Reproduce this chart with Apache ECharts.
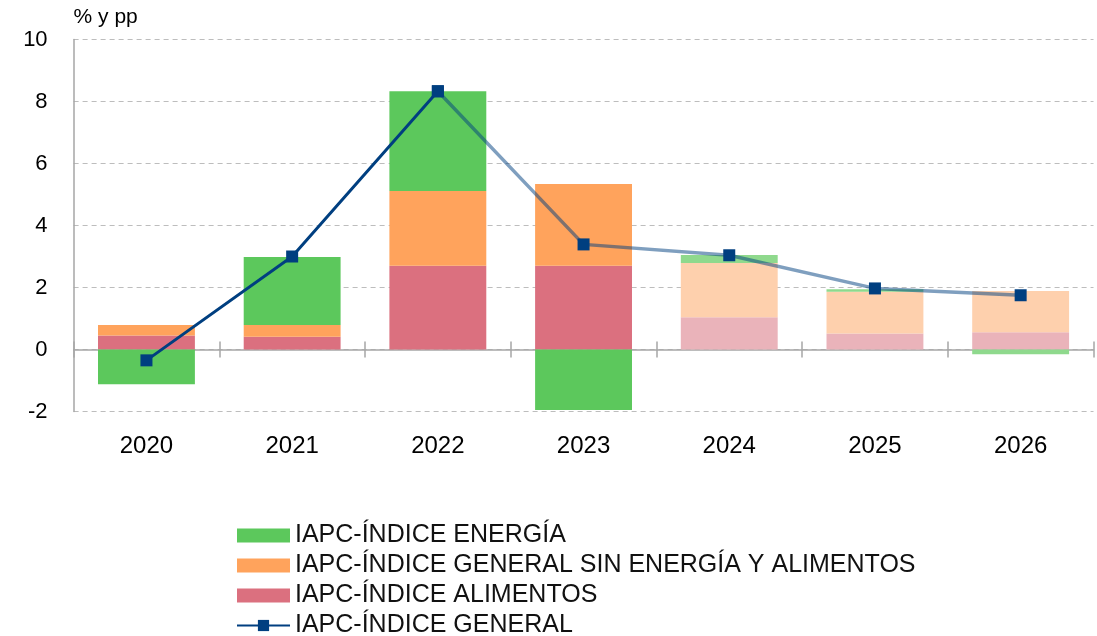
<!DOCTYPE html>
<html>
<head>
<meta charset="utf-8">
<script src="https://cdn.jsdelivr.net/npm/echarts@6/dist/echarts.min.js"></script>
<style>
html,body{margin:0;padding:0;background:#fff;}
#chart{width:1097px;height:636px;}
</style>
</head>
<body>
<div id="chart"></div>
<script>
// ---- data ----
const years = ['2020', '2021', '2022', '2023', '2024', '2025', '2026'];
const energia = [-1.12, 2.19, 3.22, -1.95, 0.26, 0.08, -0.15];
const subyacente = [0.34, 0.38, 2.41, 2.64, 1.75, 1.34, 1.33];
const alimentos = [0.45, 0.41, 2.70, 2.70, 1.04, 0.52, 0.56];
const general = [-0.35, 3.00, 8.33, 3.39, 3.04, 1.97, 1.75];
const yTicks = [-2, 0, 2, 4, 6, 8, 10];
const firstForecast = 4; // index of first projected year
const lastObserved = 2;  // line drawn solid up to this index

const names = {
  energia: 'IAPC-ÍNDICE ENERGÍA',
  sub: 'IAPC-ÍNDICE GENERAL SIN ENERGÍA Y ALIMENTOS',
  alim: 'IAPC-ÍNDICE ALIMENTOS',
  gen: 'IAPC-ÍNDICE GENERAL'
};

const colors = {
  energia: ['#5cc85c', '#8fd98d'],
  sub: ['#ffa35c', '#fed0ad'],
  alim: ['#db707f', '#eab3ba'],
  line: '#003f80'
};

function barData(vals, pair) {
  return vals.map((v, i) => ({
    value: v,
    itemStyle: { color: i >= firstForecast ? pair[1] : pair[0] }
  }));
}

const FONT = '"Liberation Sans", Arial, Helvetica, sans-serif';
const AXIS_GREY = '#a6a6a6';

const chart = echarts.init(document.getElementById('chart'), null, { renderer: 'canvas' });

const yBase = {
  type: 'value',
  min: yTicks[0],
  max: yTicks[yTicks.length - 1],
  interval: 2
};

const option = {
  animation: false,
  textStyle: { fontFamily: FONT, color: '#000' },
  grid: { left: 73.6, right: 3.5, top: 39.5, bottom: 224.5, containLabel: false },
  legend: {
    orient: 'vertical',
    left: 236,
    top: 523,
    height: 140,
    padding: 0,
    itemWidth: 53,
    itemHeight: 14,
    itemGap: 5,
    data: [
      { name: names.energia, icon: 'rect' },
      { name: names.sub, icon: 'rect' },
      { name: names.alim, icon: 'rect' },
      { name: names.gen }
    ],
    textStyle: { fontFamily: FONT, fontSize: 25, color: '#111', lineHeight: 25 },
    selectedMode: false
  },
  xAxis: [
    {
      type: 'category',
      data: years,
      position: 'bottom',
      axisLine: { onZero: true, lineStyle: { color: AXIS_GREY, width: 1.5 } },
      axisTick: { show: true, length: 8, lineStyle: { color: AXIS_GREY, width: 1.5 } },
      axisLabel: { fontSize: 24, color: '#000', margin: 23, fontFamily: FONT },
      splitLine: { show: false }
    },
    {
      type: 'category',
      data: years,
      position: 'top',
      axisLine: { show: true, onZero: true, onZeroAxisIndex: 1, lineStyle: { color: 'rgba(0,0,0,0)', width: 0 } },
      axisTick: { show: true, length: 8, lineStyle: { color: AXIS_GREY, width: 1.5 } },
      axisLabel: { show: false },
      splitLine: { show: false }
    }
  ],
  yAxis: [
    Object.assign({}, yBase, {
      name: '% y pp',
      nameLocation: 'end',
      nameGap: 12,
      nameTextStyle: { fontSize: 21, color: '#000', align: 'left', fontFamily: FONT },
      axisLine: { show: true, lineStyle: { color: AXIS_GREY, width: 1.5 } },
      axisTick: { show: false },
      axisLabel: { fontSize: 22, color: '#000', margin: 26, fontFamily: FONT },
      splitLine: { show: true, lineStyle: { color: '#bdbdbd', type: [5, 4], width: 1.2 } }
    }),
    Object.assign({}, yBase, {
      position: 'right',
      axisLine: { show: false },
      axisTick: { show: false },
      axisLabel: { show: false },
      splitLine: { show: false }
    })
  ],
  series: [
    {
      name: names.alim, type: 'bar', stack: 'tot', barWidth: '66.5%',
      itemStyle: { color: colors.alim[0] },
      data: barData(alimentos, colors.alim)
    },
    {
      name: names.sub, type: 'bar', stack: 'tot', barWidth: '66.5%',
      itemStyle: { color: colors.sub[0] },
      data: barData(subyacente, colors.sub)
    },
    {
      name: names.energia, type: 'bar', stack: 'tot', barWidth: '66.5%',
      itemStyle: { color: colors.energia[0] },
      data: barData(energia, colors.energia)
    },
    {
      name: names.gen, type: 'line', z: 5,
      data: general.map((v, i) => (i <= lastObserved ? v : null)),
      symbol: 'rect', symbolSize: 12,
      lineStyle: { color: colors.line, width: 3 },
      itemStyle: { color: colors.line }
    },
    {
      name: 'proyeccion', type: 'line', z: 4,
      data: general.map((v, i) => (i >= lastObserved ? v : null)),
      symbol: 'rect', symbolSize: 12,
      lineStyle: { color: colors.line, width: 3.4, opacity: 0.5 },
      itemStyle: { color: colors.line, opacity: 1 }
    }
  ]
};

chart.setOption(option);
</script>
</body>
</html>
